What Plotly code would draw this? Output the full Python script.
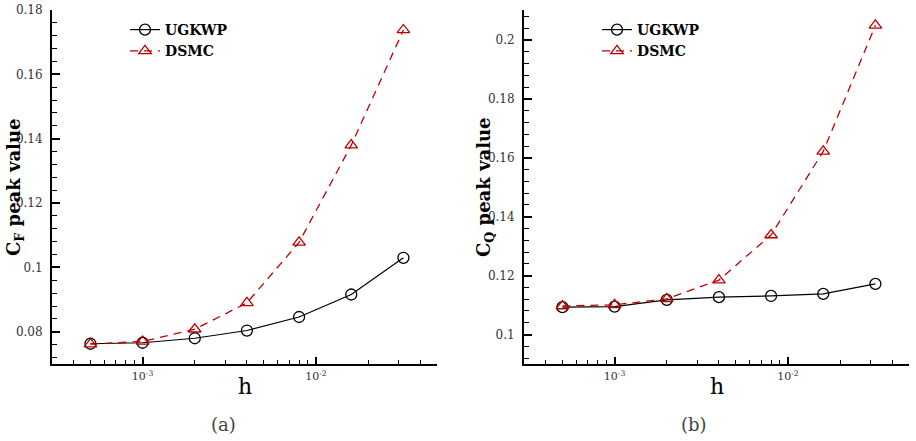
import plotly.graph_objects as go

h = [0.0005, 0.001, 0.002, 0.004, 0.008, 0.016, 0.032]
cf_ugkwp = [0.0763, 0.0766, 0.0780, 0.0804, 0.0846, 0.0916, 0.1030]
cf_dsmc = [0.0762, 0.0770, 0.0808, 0.0890, 0.1078, 0.1380, 0.1738]
cq_ugkwp = [0.1093, 0.1095, 0.1118, 0.1127, 0.1131, 0.1138, 0.1172]
cq_dsmc = [0.1097, 0.1101, 0.1121, 0.1185, 0.1338, 0.1622, 0.2050]

x_tickvals = [0.001, 0.01]
x_ticktext = ["10<sup>-3</sup>", "10<sup>-2</sup>"]
x_minor = [m * 10.0 ** e for e in (-4, -3, -2) for m in range(2, 10)]
left_yticks = [0.08, 0.1, 0.12, 0.14, 0.16, 0.18]
left_yticktext = ["0.08", "0.1", "0.12", "0.14", "0.16", "0.18"]
right_yticks = [0.1, 0.12, 0.14, 0.16, 0.18, 0.2]
right_yticktext = ["0.1", "0.12", "0.14", "0.16", "0.18", "0.2"]

W, H = 916, 441
SERIF = "DejaVu Serif"
BLACK = "#000000"
RED = "#c00000"

fig = go.Figure()

def add_series(xa, ya, yu, yd, legend):
    fig.add_trace(go.Scatter(
        x=h, y=yu, name="UGKWP", mode="lines+markers", xaxis=xa, yaxis=ya,
        line=dict(color=BLACK, width=1.2),
        marker=dict(symbol="circle-open", size=11, color=BLACK, line=dict(width=1.3)),
        legend=legend))
    fig.add_trace(go.Scatter(
        x=h, y=yd, name="DSMC", mode="lines+markers", xaxis=xa, yaxis=ya,
        line=dict(color=RED, width=1.3, dash="8px,6px"),
        marker=dict(symbol="triangle-up-open", size=11, color=RED, line=dict(width=1.3)),
        legend=legend))

add_series("x", "y", cf_ugkwp, cf_dsmc, "legend")
add_series("x2", "y2", cq_ugkwp, cq_dsmc, "legend2")

ydom = [1 - 364 / H, 1 - 10 / H]

def xaxis(dom, anchor):
    return dict(
        type="log", range=[-3.5229, -1.30103], domain=dom, anchor=anchor,
        tickvals=x_tickvals, ticktext=x_ticktext, automargin=False,
        ticks="inside", ticklen=7, tickwidth=1.5, tickcolor=BLACK,
        minor=dict(tickvals=x_minor, ticks="inside", ticklen=4, tickwidth=1.2, tickcolor=BLACK),
        showline=True, linecolor=BLACK, linewidth=2, showgrid=False, zeroline=False,
        tickfont=dict(family=SERIF, size=11, color="#333333"), ticklabelstandoff=1,
    )

def yaxis(rng, tv, tt, anchor):
    return dict(
        range=rng, domain=ydom, anchor=anchor, automargin=False,
        tickvals=tv, ticktext=tt,
        ticks="inside", ticklen=8, tickwidth=1.5, tickcolor=BLACK,
        minor=dict(dtick=0.004, tick0=0, ticks="inside", ticklen=5, tickwidth=1.2, tickcolor=BLACK),
        showline=True, linecolor=BLACK, linewidth=2, showgrid=False, zeroline=False,
        tickfont=dict(family=SERIF, size=12, color="#333333"), ticklabelstandoff=5,
    )

legend_font = dict(family=SERIF, size=14, color=BLACK, weight="bold")
fig.update_layout(
    width=W, height=H, margin=dict(l=0, r=0, t=0, b=0, pad=0, autoexpand=False),
    paper_bgcolor="white", plot_bgcolor="white",
    font=dict(family=SERIF),
    xaxis=xaxis([52 / W, 437 / W], "y"),
    yaxis=yaxis([0.07, 0.18], left_yticks, left_yticktext, "x"),
    xaxis2=xaxis([524 / W, 909 / W], "y2"),
    yaxis2=yaxis([0.09, 0.2102], right_yticks, right_yticktext, "x2"),
    legend=dict(x=125 / W, y=1 - 14 / H, xanchor="left", yanchor="top",
                font=legend_font, bgcolor="rgba(0,0,0,0)", tracegroupgap=0),
    legend2=dict(x=597 / W, y=1 - 14 / H, xanchor="left", yanchor="top",
                 font=legend_font, bgcolor="rgba(0,0,0,0)", tracegroupgap=0),
    showlegend=True,
)

ann = [
    dict(text="<b>C<sub>F</sub> peak value</b>", x=15 / W, y=1 - 187 / H, textangle=-90,
         font=dict(size=18)),
    dict(text="<b>C<sub>Q</sub> peak value</b>", x=485 / W, y=1 - 187 / H, textangle=-90,
         font=dict(size=18)),
    dict(text="h", x=245 / W, y=1 - 386 / H, font=dict(size=22)),
    dict(text="h", x=717 / W, y=1 - 386 / H, font=dict(size=22)),
    dict(text="(a)", x=223 / W, y=1 - 424 / H, font=dict(size=18, color="#444444")),
    dict(text="(b)", x=694 / W, y=1 - 424 / H, font=dict(size=18, color="#444444")),
]
for a in ann:
    f = dict(family=SERIF, color=BLACK)
    f.update(a.pop("font"))
    fig.add_annotation(xref="paper", yref="paper", xanchor="center", yanchor="middle",
                       showarrow=False, font=f, **a)

fig.write_html("out.html")
